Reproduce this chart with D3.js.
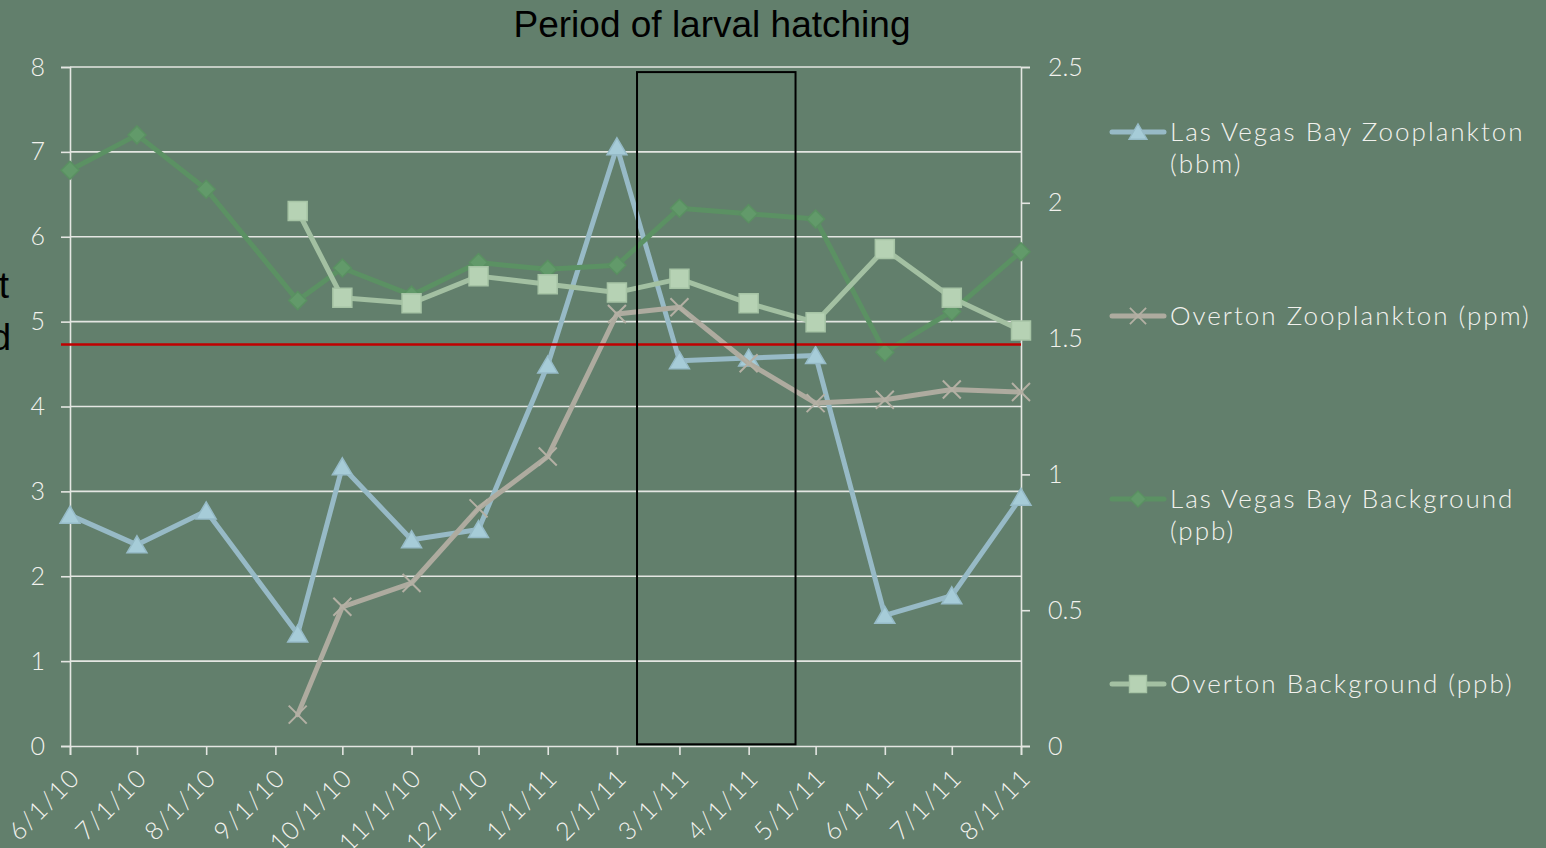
<!DOCTYPE html>
<html>
<head>
<meta charset="utf-8">
<script src="https://cdn.jsdelivr.net/npm/d3@7"></script>
<style>
html,body{margin:0;padding:0;background:#627F6C;overflow:hidden;}
svg{display:block;}
</style>
</head>
<body>
<svg id="chart" width="1546" height="848"></svg>
<script>
// ---- data ----
const dates = ["2010-06-01","2010-07-01","2010-08-01","2010-09-11","2010-10-01","2010-11-01","2010-12-01","2011-01-01","2011-02-01","2011-03-01","2011-04-01","2011-05-01","2011-06-01","2011-07-01","2011-08-01"];
const lvbZoo = [2.72,2.37,2.77,1.32,3.29,2.43,2.55,4.49,7.06,4.54,4.57,4.60,1.54,1.77,2.93];
const overtonZoo = [null,null,null,0.37,1.64,1.92,2.80,3.41,5.09,5.17,4.51,4.04,4.08,4.20,4.17];
const lvbBg = [2.12,2.25,2.05,1.64,1.76,1.66,1.78,1.755,1.77,1.98,1.96,1.94,1.45,1.60,1.82];
const overtonBg = [null,null,null,1.97,1.65,1.63,1.73,1.70,1.67,1.72,1.63,1.56,1.83,1.65,1.53];
const xTicks = ["2010-06-01","2010-07-01","2010-08-01","2010-09-01","2010-10-01","2010-11-01","2010-12-01","2011-01-01","2011-02-01","2011-03-01","2011-04-01","2011-05-01","2011-06-01","2011-07-01","2011-08-01"];
const leftTicks = [0,1,2,3,4,5,6,7,8];
const rightTicks = [0,0.5,1,1.5,2,2.5];
const threshold = 4.73;
const hatchStart = "2011-02-10", hatchEnd = "2011-04-22";
const hatchTop = 7.94, hatchBottom = 0.02;
const legendNames = [["Las Vegas Bay Zooplankton","(bbm)"],["Overton Zooplankton (ppm)"],["Las Vegas Bay Background","(ppb)"],["Overton Background (ppb)"]];

// ---- setup ----
const parse = d3.timeParse("%Y-%m-%d");
const svg = d3.select("#chart");
const L = 70, R = 1021, T = 67, B = 746;
const x = d3.scaleTime().domain([parse(xTicks[0]), parse(xTicks[xTicks.length-1])]).range([L, R]);
const yL = d3.scaleLinear().domain([0,8]).range([B, T]);
const yR = d3.scaleLinear().domain([0,2.5]).range([B, T]);
const labelFont = "Lato, 'Open Sans', sans-serif";
const gridCol = "#E4E6E2";

// gridlines
svg.append("g").selectAll("line").data(leftTicks.filter(d=>d>0)).join("line")
  .attr("x1", L).attr("x2", R).attr("y1", d=>yL(d)).attr("y2", d=>yL(d))
  .attr("stroke", gridCol).attr("stroke-width", 1.6);

// left axis
const gL = svg.append("g").attr("transform", `translate(${L},0)`)
  .call(d3.axisLeft(yL).tickValues(leftTicks).tickSize(9).tickPadding(16).tickFormat(d3.format("d")));
// right axis
const gR = svg.append("g").attr("transform", `translate(${R},0)`)
  .call(d3.axisRight(yR).tickValues(rightTicks).tickSize(9).tickPadding(18).tickFormat(d=>String(d)));
// bottom axis
const gB = svg.append("g").attr("transform", `translate(0,${B})`)
  .call(d3.axisBottom(x).tickValues(xTicks.map(parse)).tickSize(9).tickFormat(d3.timeFormat("%-m/%-d/%y")));
[gL,gR,gB].forEach(g=>{
  g.selectAll("path.domain").attr("stroke", gridCol).attr("stroke-width",1.6);
  g.selectAll(".tick line").attr("stroke", gridCol).attr("stroke-width",1.6);
  g.selectAll("text").attr("fill","#F2F2EE").style("font-family",labelFont).style("font-size","25px").style("font-weight","300");
});
gB.selectAll("text").attr("text-anchor","end").attr("dy","0.35em").attr("y",0)
  .style("letter-spacing","1.5px")
  .attr("transform","translate(5,27) rotate(-45)");

// series lines
function drawLine(vals, yScale, color, width){
  const pts = dates.map((d,i)=>({d:parse(d), v:vals[i]})).filter(p=>p.v!=null);
  svg.append("path").datum(pts)
    .attr("d", d3.line().x(p=>x(p.d)).y(p=>yScale(p.v)))
    .attr("fill","none").attr("stroke",color).attr("stroke-width",width)
    .attr("stroke-linejoin","round").attr("stroke-linecap","round");
  return pts;
}
const triPath = "M0,-9 L10,8 L-10,8 Z";
const sqPath = "M-9.5,-9.5 H9.5 V9.5 H-9.5 Z";
const diaPath = "M0,-9 L9,0 L0,9 L-9,0 Z";
const xPath = "M-9,-9 L9,9 M-9,9 L9,-9";

const styles = [
  {vals: lvbZoo, y: yL, line:"#97BAC6", fill:"#A6CCD8", stroke:"#96BBC7", path: triPath, sw:1.5},
  {vals: overtonZoo, y: yL, line:"#AEAB9F", fill:"none", stroke:"#B4B0A4", path: xPath, sw:2},
  {vals: lvbBg, y: yR, line:"#5B9163", fill:"#629A6A", stroke:"#5A9062", path: diaPath, sw:1.5},
  {vals: overtonBg, y: yR, line:"#A3C0A2", fill:"#B6D2B4", stroke:"#A6C4A5", path: sqPath, sw:1.5}
];
styles.forEach(s=>{
  const pts = drawLine(s.vals, s.y, s.line, 5);
  svg.append("g").selectAll("path").data(pts).join("path")
    .attr("d", s.path).attr("transform", p=>`translate(${x(p.d)},${s.y(p.v)})`)
    .attr("fill", s.fill).attr("stroke", s.stroke).attr("stroke-width", s.sw);
});

// threshold line
svg.append("line").attr("x1", L-9).attr("x2", R).attr("y1", yL(threshold)).attr("y2", yL(threshold))
  .attr("stroke","#C00000").attr("stroke-width",2.5);

// hatching rectangle
svg.append("rect").attr("x", x(parse(hatchStart))).attr("y", yL(hatchTop))
  .attr("width", x(parse(hatchEnd))-x(parse(hatchStart))).attr("height", yL(hatchBottom)-yL(hatchTop))
  .attr("fill","none").attr("stroke","#000").attr("stroke-width",2);

// title
svg.append("text").attr("x",712).attr("y",37).attr("text-anchor","middle")
  .style("font-family","'Liberation Sans', Arial, sans-serif").style("font-size","37px").attr("fill","#000")
  .text("Period of larval hatching");
// clipped left axis title remnants
const yt = svg.append("text").attr("text-anchor","end").style("font-family","'Liberation Sans', Arial, sans-serif")
  .style("font-size","37px").attr("fill","#000");
yt.append("tspan").attr("x",9).attr("y",298).text("Content");
yt.append("tspan").attr("x",11).attr("y",350).text("Measured");

// legend
const legY = [132, 316, 499, 684];
styles.forEach((s,i)=>{
  const g = svg.append("g").attr("transform",`translate(0,${legY[i]})`);
  g.append("line").attr("x1",1112).attr("x2",1164).attr("y1",0).attr("y2",0)
    .attr("stroke",s.line).attr("stroke-width",5).attr("stroke-linecap","round");
  g.append("path").attr("d", s.path).attr("transform","translate(1138,0) scale(0.9)")
    .attr("fill", s.fill).attr("stroke", s.stroke).attr("stroke-width", s.sw);
  const t = g.append("text").style("font-family",labelFont).style("font-size","26px").style("font-weight","300")
    .style("letter-spacing","2px").attr("fill","#F2F2EE");
  legendNames[i].forEach((ln,j)=>{
    t.append("tspan").attr("x",1170).attr("y", 9 + j*32).text(ln);
  });
});
</script>
</body>
</html>
